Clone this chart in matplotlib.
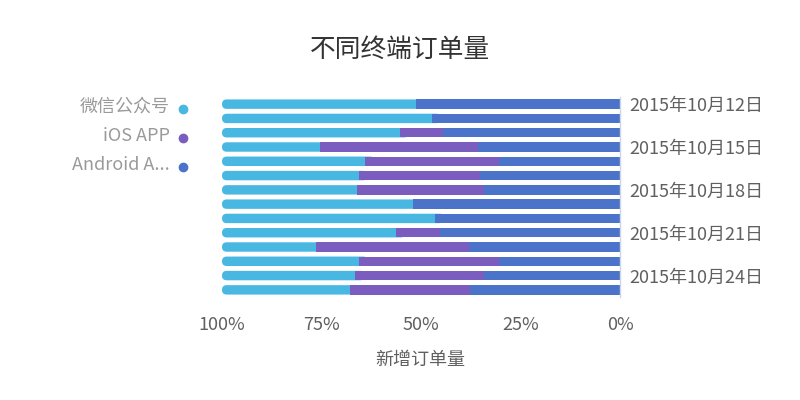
import matplotlib
matplotlib.use('Agg')
import matplotlib.pyplot as plt
import numpy as np
from matplotlib.patches import FancyBboxPatch
from matplotlib.lines import Line2D

plt.rcParams['font.family'] = ['Noto Sans CJK SC', 'DejaVu Sans']

dates = ['2015年10月12日', '2015年10月13日', '2015年10月14日', '2015年10月15日',
         '2015年10月16日', '2015年10月17日', '2015年10月18日', '2015年10月19日',
         '2015年10月20日', '2015年10月21日', '2015年10月22日', '2015年10月23日',
         '2015年10月24日', '2015年10月25日']
android = [51.3, 47.3, 44.5, 35.8, 30.5, 35.1, 34.1, 52.1, 46.5, 45.2, 38.0, 30.5, 34.1, 37.7]
ios = [0.0, 0.0, 10.9, 39.6, 33.5, 30.6, 32.0, 0.0, 0.0, 11.1, 38.4, 35.2, 32.4, 30.2]
wechat = [48.7, 52.7, 44.6, 24.6, 36.0, 34.3, 33.9, 47.9, 53.5, 43.7, 23.6, 34.3, 33.5, 32.1]
series_names = ['微信公众号', 'iOS APP', 'Android A...']
xticks = [0, 25, 50, 75, 100]
xtick_labels = ['0%', '25%', '50%', '75%', '100%']

c_wechat = '#48b7e1'
c_ios = '#7a5dbf'
c_android = '#4b73c9'

W, H = 800, 400
fig = plt.figure(figsize=(8, 4), dpi=100)
ax = fig.add_axes([222 / W, 1 - 297 / H, 398 / W, 200 / H])

y = np.arange(len(dates))
a = np.array(android)
i = np.array(ios)
w = np.array(wechat)
bh = 0.66
ax.barh(y, a, height=bh, color=c_android, zorder=3)
ax.barh(y, i, left=a, height=bh, color=c_ios, zorder=3)
wb = ax.barh(y, w, left=a + i, height=bh, color=c_wechat, zorder=2)

ax.set_xlim(100, 0)
ax.set_ylim(len(dates) - 0.5, -0.5)

# rounded outer ends for the last segment
fig.canvas.draw()
px_per_x = abs(ax.transData.transform((1, 0))[0] - ax.transData.transform((0, 0))[0])
px_per_y = abs(ax.transData.transform((0, 1))[1] - ax.transData.transform((0, 0))[1])
for rect in list(wb.patches):
    x0, y0 = rect.get_x(), rect.get_y()
    rw, rh = rect.get_width(), rect.get_height()
    r_px = rh / 2 * px_per_y
    rs = r_px / px_per_x
    aspect = (rh / 2) / rs
    fb = FancyBboxPatch((x0 - 2 * rs, y0), rw + 2 * rs, rh,
                        boxstyle=f'round,pad=0,rounding_size={rs}',
                        mutation_aspect=aspect, facecolor=c_wechat,
                        edgecolor='none', zorder=2)
    rect.remove()
    ax.add_patch(fb)

for s in ['top', 'left', 'bottom']:
    ax.spines[s].set_visible(False)
ax.spines['right'].set_color('#ccd6eb')
ax.spines['right'].set_linewidth(1)
ax.spines['right'].set_zorder(4)

ax.yaxis.tick_right()
ax.set_yticks(y[::3])
ax.set_yticklabels(dates[::3])
ax.set_xticks(xticks)
ax.set_xticklabels(xtick_labels)
ax.tick_params(axis='y', length=0, pad=7, labelsize=13, labelcolor='#606060')
ax.tick_params(axis='x', length=0, pad=14, labelsize=13, labelcolor='#606060')

fig.text(400 / W, 1 - 50 / H, '不同终端订单量', ha='center', va='center',
         fontsize=18.5, color='#333333')
fig.text(420 / W, 1 - 360 / H, '新增订单量', ha='center', va='center',
         fontsize=13, color='#606060')

legend_y = [107, 136, 165]
for name, col, ly in zip(series_names, [c_wechat, c_ios, c_android], legend_y):
    fig.text(170 / W, 1 - ly / H, name, ha='right', va='center',
             fontsize=13, color='#9a9a9a')
    fig.add_artist(Line2D([183 / W], [1 - (ly + 2) / H], marker='o', markersize=6,
                          color=col, linestyle='none', transform=fig.transFigure))

fig.savefig('out.png', dpi=100)
